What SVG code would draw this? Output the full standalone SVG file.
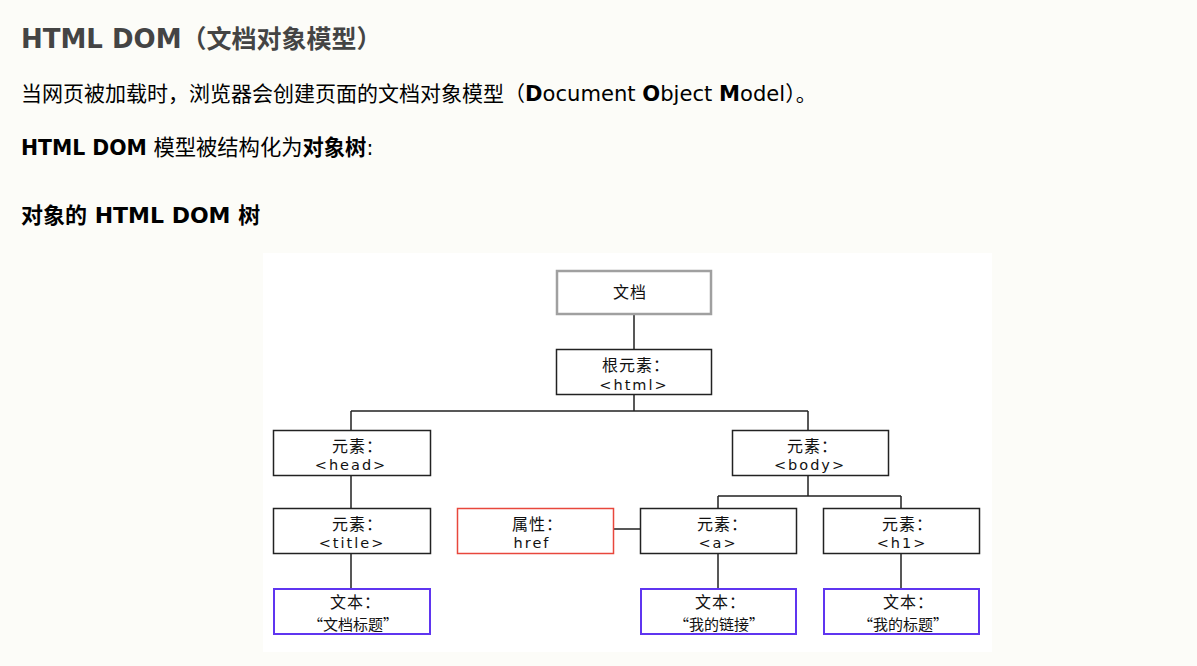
<svg xmlns="http://www.w3.org/2000/svg" width="1197" height="666" viewBox="0 0 1197 666">
<style>
.pg{font-family:"DejaVu Sans","Noto Sans CJK SC",sans-serif;fill:#000}
.h{font-size:26px;font-weight:bold;fill:#444}
.b{font-weight:bold}
.box{fill:#fff;stroke:#222;stroke-width:1.5}
.doc{fill:#fff;stroke:#a0a0a0;stroke-width:2.5}
.attr{fill:#fff;stroke:#e8473c;stroke-width:1.5}
.txt{fill:#fff;stroke:#5f35f0;stroke-width:2}
.cj{font-family:"Noto Sans CJK SC",sans-serif;font-size:16px;fill:#111;letter-spacing:1px}
.lt{font-family:"DejaVu Sans",sans-serif;font-size:14.5px;fill:#111;letter-spacing:2px;text-anchor:middle}
.q{font-family:"Noto Sans CJK SC",sans-serif;font-size:15px;fill:#111;text-anchor:middle}
.c{stroke:#222;stroke-width:1.5;fill:none}
</style>
<rect width="1197" height="666" fill="#fcfcf8"/>
<g id="texts" class="pg">
<text class="h" x="21" y="48">HTML DOM<tspan font-size="25">（文档对象模型）</tspan></text>
<text x="21" y="101" font-size="21">当网页被加载时，浏览器会创建页面的文档对象模型（<tspan class="b" font-size="21.1">D</tspan><tspan font-size="21.1">ocument </tspan><tspan class="b" font-size="21.1">O</tspan><tspan font-size="21.1">bject </tspan><tspan class="b" font-size="21.1">M</tspan><tspan font-size="21.1">odel</tspan>）。</text>
<text x="21" y="155" font-size="20.4"><tspan class="b">HTML DOM</tspan> <tspan font-size="21.3">模型被结构化为</tspan><tspan class="b" font-size="21.3">对象树</tspan>:</text>
<text class="b" x="21" y="223" font-size="22">对象的 HTML DOM 树</text>
</g>
<rect x="263" y="253" width="729" height="399" fill="#fff"/>
<g id="connectors">
<path class="c" d="M634 314V349M634 395V411M351 411H808M351 411V430M808 411V430"/>
<path class="c" d="M351 476V508M351 554V589"/>
<path class="c" d="M808 476V496M718 496H901M718 496V508M901 496V508"/>
<path class="c" d="M614 529H640M718 554V589M901 554V589"/>
</g>
<g id="document"><rect class="doc" x="557" y="271" width="154" height="43"/><text class="cj" x="613" y="298" font-size="17">文档</text></g>
<g id="html"><rect class="box" x="556.5" y="349.5" width="155" height="45"/><text class="cj" x="602" y="371">根元素：</text><text class="lt" x="634" y="389.5">&lt;html&gt;</text></g>
<g id="head"><rect class="box" x="273.5" y="430.5" width="157" height="45"/><text class="cj" x="332" y="451.5">元素：</text><text class="lt" x="351" y="470">&lt;head&gt;</text></g>
<g id="body"><rect class="box" x="732.5" y="430.5" width="156" height="45"/><text class="cj" x="787" y="451.5">元素：</text><text class="lt" x="810" y="470">&lt;body&gt;</text></g>
<g id="title"><rect class="box" x="273.5" y="508.5" width="157" height="45"/><text class="cj" x="332" y="529.5">元素：</text><text class="lt" x="352" y="548">&lt;title&gt;</text></g>
<g id="href"><rect class="attr" x="457.5" y="508.5" width="156" height="45"/><text class="cj" x="512" y="529.5">属性：</text><text class="lt" x="532" y="548">href</text></g>
<g id="a"><rect class="box" x="640.5" y="508.5" width="156" height="45"/><text class="cj" x="697" y="529.5">元素：</text><text class="lt" x="718" y="548">&lt;a&gt;</text></g>
<g id="h1"><rect class="box" x="823.5" y="508.5" width="156" height="45"/><text class="cj" x="882" y="529.5">元素：</text><text class="lt" x="902" y="548">&lt;h1&gt;</text></g>
<g id="titletext"><rect class="txt" x="274" y="589" width="156" height="45"/><text class="cj" x="330" y="608">文本：</text><text class="q" x="353" y="630">“文档标题”</text></g>
<g id="atext"><rect class="txt" x="641" y="589" width="155" height="45"/><text class="cj" x="695" y="608">文本：</text><text class="q" x="719" y="630">“我的链接”</text></g>
<g id="h1text"><rect class="txt" x="824" y="589" width="155" height="45"/><text class="cj" x="883" y="608">文本：</text><text class="q" x="903" y="630">“我的标题”</text></g>
</svg>
